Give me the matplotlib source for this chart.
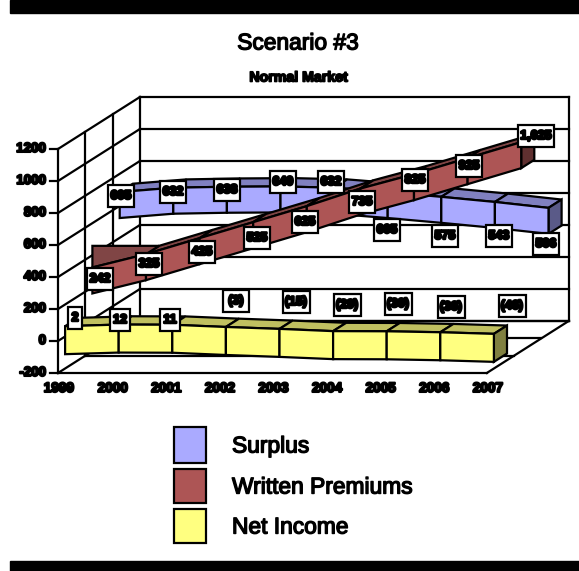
import matplotlib
matplotlib.use("Agg")
from matplotlib import pyplot as plt
from matplotlib import patheffects as pe
from matplotlib.patches import Rectangle

years = ["1999", "2000", "2001", "2002", "2003", "2004", "2005", "2006", "2007"]
surplus = [605, 632, 638, 640, 632, 605, 575, 543, 506]
premiums = [242, 325, 425, 525, 625, 735, 825, 925, 1025]
net_income = [2, 12, 11, -3, -15, -29, -30, -36, -46]
value_ticks = [-200, 0, 200, 400, 600, 800, 1000, 1200]
legend_names = ["Surplus", "Written Premiums", "Net Income"]

W, H = 579, 571
LW = 1.6
FONT = "Liberation Sans"

fig = plt.figure(figsize=(W / 100, H / 100), dpi=100)
ax = fig.add_axes([0, 0, 1, 1])
ax.set_xlim(0, W)
ax.set_ylim(H, 0)
ax.axis("off")


# oblique projection: year index, value and depth slot to pixels
def proj(i, v, d=0):
    return 58 + 53.6 * i + 27.3 * d, 341 - 0.16 * v - 17.33 * d


def line(pts, z=2, lw=LW):
    ax.plot([p[0] for p in pts], [p[1] for p in pts], color="black", lw=lw,
            zorder=z, solid_capstyle="projecting")


def poly(pts, color, z):
    ax.fill([p[0] for p in pts], [p[1] for p in pts], facecolor=color,
            edgecolor="black", lw=LW, zorder=z, joinstyle="miter")


def fmt(v):
    return "({:,})".format(-v) if v < 0 else "{:,}".format(v)


def blurry(size, weight="normal", stroke=0.5, **kw):
    return dict(fontsize=size, fontweight=weight, family=FONT, color="black",
                path_effects=[pe.withStroke(linewidth=stroke, foreground="black")], **kw)


# black bands top and bottom
ax.add_patch(Rectangle((10, 0), W - 10, 13, color="black", zorder=1))
ax.add_patch(Rectangle((10, 561), W - 10, 10, color="black", zorder=1))

ax.text(298, 43, "Scenario #3", ha="center", va="center", **blurry(16.4, stroke=1.0))
ax.text(298.5, 77.5, "Normal Market", ha="center", va="center", **blurry(10.2, "bold", 1.2))

# walls and floor
for v in value_ticks:
    line([proj(0, v, 0), proj(0, v, 3)])
    line([proj(0, v, 3), proj(8, v, 3)])
    line([(50, proj(0, v)[1]), proj(0, v)])
    x, y = proj(0, v)
    ax.text(46, y, str(v), ha="right", va="center", **blurry(9.6, "bold", 1.5))
for d in range(4):
    line([proj(0, -200, d), proj(0, 1200, d)])
    line([proj(0, -200, d), proj(8, -200, d)])
line([proj(8, -200, 3), proj(8, 1200, 3)])
line([proj(8, -200, 0), proj(8, -200, 3)])
for i, yr in enumerate(years):
    x, y = proj(i, -200)
    ax.text(x + 1, 388, yr, ha="center", va="center", **blurry(9.8, "bold", 1.5))


# one 3D ribbon: top surface, end cap, then the front face with its dividers
def ribbon(vals, d, drop, thick, face, top, end, z):
    d0, d1 = d, d + 0.48

    def fb(i, dd):
        x, y = proj(i, vals[i], dd)
        return (x, y + drop)

    def ft(i, dd):
        x, y = proj(i, vals[i], dd)
        return (x, y + drop - thick)

    n = len(vals)
    for i in range(n - 1):
        poly([ft(i, d0), ft(i + 1, d0), ft(i + 1, d1), ft(i, d1)], top, z)
    poly([ft(n - 1, d0), ft(n - 1, d1), fb(n - 1, d1), fb(n - 1, d0)], end, z)
    for i in range(n - 1):
        poly([ft(i, d0), ft(i + 1, d0), fb(i + 1, d0), fb(i, d0)], face, z + 0.1)
    return ft, d0, d1


ribbon(surplus, 2.26, 13, 26, "#AAAAFF", "#8080C0", "#5A5A88", 3)

# the first premium segment sits behind a darker cap up to its back edge
ft, d0, d1 = ribbon(premiums, 1.26, 13, 26, "#AD5555", "#804545", "#5F3030", 4)
poly([ft(0, d0), (ft(0, d0)[0], ft(1, d1)[1]), ft(1, d1), ft(1, d0)], "#804545", 4.05)

ribbon(net_income, 0.26, 18, 28, "#FFFF80", "#C0C060", "#808040", 5)


# value boxes, centred at the given pixel spots
def value_labels(vals, spots):
    for v, (x, y) in zip(vals, spots):
        s = fmt(v)
        w = {1: 14, 2: 20, 3: 26, 4: 27, 5: 36}[len(s)]
        ax.add_patch(Rectangle((x - w / 2, y - 11), w, 22, facecolor="white",
                               edgecolor="black", lw=LW, zorder=6))
        ax.text(x, y, s, ha="center", va="center", zorder=7, **blurry(9, "bold", 1.8))


value_labels(surplus, [(121, 196), (173, 192), (227, 190), (283, 182), (331, 182),
                       (387, 230), (445, 236), (499, 236), (546, 244)])
value_labels(premiums, [(100, 279), (149, 264), (202, 252), (257, 238), (305, 222),
                        (362, 202), (415, 180), (469, 166), (536, 136)])
value_labels(net_income, [(75, 318), (120, 320), (170, 320), (236, 301), (296, 302),
                          (347, 305), (398, 304), (451, 307), (512, 306)])

# legend
for name, color, y0, h in zip(legend_names, ["#AAAAFF", "#AD5555", "#FFFF80"],
                              [427, 469, 509], [36, 34, 34]):
    ax.add_patch(Rectangle((173.5, y0), 32.5, h, facecolor=color, edgecolor="black",
                           lw=LW, zorder=3))
    ax.text(232, y0 + h / 2 + 1, name, ha="left", va="center", **blurry(16.4, stroke=1.0))

fig.savefig("out.png", dpi=100)
